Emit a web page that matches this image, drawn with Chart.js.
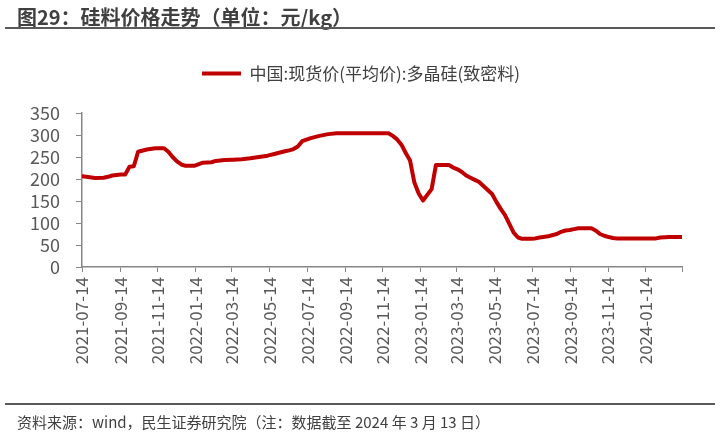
<!DOCTYPE html>
<html>
<head>
<meta charset="utf-8">
<script src="https://cdn.jsdelivr.net/npm/chart.js@4/dist/chart.umd.min.js"></script>
<style>
  body { margin: 0; background: #fff; }
  #wrap { position: relative; width: 720px; height: 433px; overflow: hidden; font-family: "Microsoft YaHei", "Noto Sans CJK SC", sans-serif; }
  #title { position: absolute; left: 17px; top: 2px; font-size: 20px; font-weight: bold; color: #404040; white-space: nowrap; }
  .rule { position: absolute; left: 5px; width: 710px; height: 2px; background: #595959; }
  #source { position: absolute; left: 17px; top: 411px; font-size: 15px; color: #404040; white-space: nowrap; }
</style>
</head>
<body>
<div id="wrap">
  <canvas id="chartLine" width="720" height="433"></canvas>
  <div id="title">图29：硅料价格走势（单位：元/kg）</div>
  <div class="rule" style="top:27px"></div>
  <div class="rule" style="top:403px"></div>
  <div id="source">资料来源：wind，民生证券研究院（注：数据截至 2024 年 3 月 13 日）</div>
</div>
<script>
// series label
const seriesName = "中国:现货价(平均价):多晶硅(致密料)";

// weekly quotes (keypoints), 元/kg
const priceDates = [
  "2021-07-14", "2021-07-21", "2021-08-04", "2021-08-18", "2021-08-25", "2021-09-01",
  "2021-09-15", "2021-09-22", "2021-09-29", "2021-10-06", "2021-10-13", "2021-10-27",
  "2021-11-10", "2021-11-24", "2021-12-01", "2021-12-08", "2021-12-15", "2021-12-22",
  "2021-12-29", "2022-01-12", "2022-01-26", "2022-02-09", "2022-02-16", "2022-03-02",
  "2022-03-16", "2022-03-30", "2022-04-13", "2022-04-27", "2022-05-11", "2022-05-25",
  "2022-06-08", "2022-06-15", "2022-06-22", "2022-06-29", "2022-07-06", "2022-07-20",
  "2022-08-03", "2022-08-17", "2022-08-31", "2022-11-23", "2022-11-30", "2022-12-07",
  "2022-12-14", "2022-12-21", "2022-12-28", "2023-01-04", "2023-01-11", "2023-01-18",
  "2023-02-01", "2023-02-08", "2023-03-01", "2023-03-08", "2023-03-15", "2023-03-22",
  "2023-03-29", "2023-04-05", "2023-04-12", "2023-04-19", "2023-04-26", "2023-05-03",
  "2023-05-10", "2023-05-17", "2023-05-24", "2023-05-31", "2023-06-07", "2023-06-14",
  "2023-06-21", "2023-06-28", "2023-07-12", "2023-07-19", "2023-07-26", "2023-08-09",
  "2023-08-23", "2023-08-30", "2023-09-06", "2023-09-13", "2023-09-20", "2023-09-27",
  "2023-10-18", "2023-10-25", "2023-11-01", "2023-11-08", "2023-11-15", "2023-11-22",
  "2023-11-29", "2024-01-31", "2024-02-07", "2024-02-21", "2024-03-13"
];
const priceValues = [
  206, 205, 202.5, 203, 205, 208,
  210, 210, 228, 229, 262, 267,
  270, 270, 262, 250, 240, 233,
  230, 230, 237, 238, 241, 243,
  244, 245, 247, 250, 253, 258,
  263, 265, 268, 274, 286, 293,
  298, 302, 304, 304, 298, 290,
  278, 259, 242, 192, 167, 151,
  177, 232, 232, 226, 222, 216,
  208, 203, 198, 193, 184, 175,
  166, 148, 132, 118, 98, 78,
  67, 64, 64, 65, 67, 70,
  75, 80, 83, 84, 86, 88,
  88, 83, 75, 71, 68, 66,
  65, 65, 67, 68, 68
];

// axis
const tickDates = [
  "2021-07-14", "2021-09-14", "2021-11-14", "2022-01-14", "2022-03-14", "2022-05-14",
  "2022-07-14", "2022-09-14", "2022-11-14", "2023-01-14", "2023-03-14", "2023-05-14",
  "2023-07-14", "2023-09-14", "2023-11-14", "2024-01-14", "2024-03-13"
];
const tickLabels = [
  "2021-07-14", "2021-09-14", "2021-11-14", "2022-01-14", "2022-03-14", "2022-05-14",
  "2022-07-14", "2022-09-14", "2022-11-14", "2023-01-14", "2023-03-14", "2023-05-14",
  "2023-07-14", "2023-09-14", "2023-11-14", "2024-01-14", ""
];
const yMin = 0, yMax = 350, yStep = 50;

const startDay = Date.parse(tickDates[0]);
const toDay = d => (Date.parse(d) - startDay) / 86400000;
const endDay = toDay(tickDates[tickDates.length - 1]);

const points = priceDates.map((d, i) => ({ x: toDay(d), y: priceValues[i] }));
const tickDays = tickDates.map(toDay);

const fontFamily = '"Microsoft YaHei", "Noto Sans CJK SC", sans-serif';
const axisColor = "#868686";
const textColor = "#595959";

// move the legend: centre it over the picture and lift it above the plot
const legendShift = {
  id: "legendShift",
  afterLayout(chart) {
    const lg = chart.legend;
    lg.left += 20;
    lg.right += 20;
    lg.top -= 21;
    lg.bottom -= 21;
    lg.adjustHitBoxes();
  }
};

var canvas = document.getElementById("chartLine");
var chartLine = new Chart(canvas, {
  type: "line",
  data: {
    datasets: [{
      label: seriesName,
      data: points,
      borderColor: "#C00000",
      backgroundColor: "#C00000",
      borderWidth: 4,
      pointRadius: 0,
      tension: 0,
      borderJoinStyle: "round",
      borderCapStyle: "round",
    }],
  },
  options: {
    responsive: false,
    animation: false,
    devicePixelRatio: 1,
    layout: { padding: { left: 0, right: 38, top: 55, bottom: 0 } },
    plugins: {
      legend: {
        position: "top",
        labels: {
          usePointStyle: true,
          pointStyle: "line",
          pointStyleWidth: 39,
          padding: 31,
          color: "#404040",
          font: { family: fontFamily, size: 17 },
        },
      },
      tooltip: { enabled: false },
    },
    scales: {
      x: {
        type: "linear",
        min: 0,
        max: endDay,
        afterFit: s => { s.height = 166; },
        afterBuildTicks: s => { s.ticks = tickDays.map(v => ({ value: v })); },
        ticks: {
          autoSkip: false,
          minRotation: 90,
          maxRotation: 90,
          padding: 5,
          color: textColor,
          font: { family: fontFamily, size: 17 },
          callback: (v, i) => tickLabels[i],
        },
        grid: { drawOnChartArea: false, drawTicks: true, tickLength: 5, color: axisColor },
        border: { display: true, color: axisColor, width: 1.5 },
      },
      y: {
        min: yMin,
        max: yMax,
        afterFit: s => { s.width = 82; },
        ticks: {
          stepSize: yStep,
          autoSkip: false,
          padding: 16,
          color: textColor,
          font: { family: fontFamily, size: 18 },
        },
        grid: { drawOnChartArea: false, drawTicks: true, tickLength: 6, color: axisColor },
        border: { display: true, color: axisColor, width: 1.5 },
      },
    },
  },
  plugins: [legendShift],
});
</script>
</body>
</html>
